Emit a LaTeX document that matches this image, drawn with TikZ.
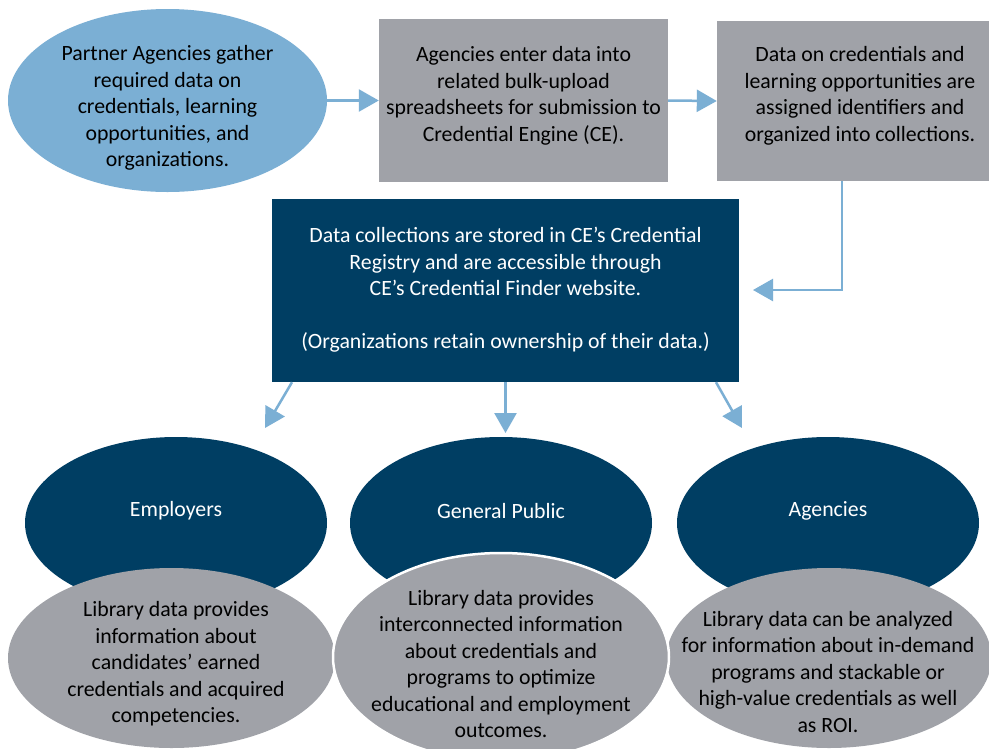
\documentclass[tikz,border=0pt]{standalone}
\usepackage{fontspec}
\setmainfont{Carlito}
\usetikzlibrary{shapes.geometric,arrows.meta,calc}
\definecolor{lblue}{HTML}{7BAFD4}
\definecolor{cgray}{HTML}{A0A2A8}
\definecolor{dblue}{HTML}{003E63}
\begin{document}
\begin{tikzpicture}[x=1pt,y=-1pt,
  txt/.style={font=\fontsize{21.8}{26.5}\selectfont, align=center, inner sep=0pt},
  ell/.style={ellipse, inner sep=0pt},
  boxs/.style={rectangle, inner sep=0pt},
  arr/.style={draw=lblue, line width=2.5pt, -{Triangle[length=20pt,width=22pt]}}]
\useasboundingbox (0,0) rectangle (989,748);
\fill[white] (0,0) rectangle (989,748);

% top row
\node[ell, fill=lblue, minimum width=319pt, minimum height=183pt] (pa) at (167.5,100.5) {};
\node[txt] (paT) at (167.5,108) {Partner Agencies gather\\required data on\\credentials, learning\\opportunities, and\\organizations.};

\node[boxs, fill=cgray, minimum width=289pt, minimum height=163pt] (b1) at (523.5,100.5) {};
\node[txt] (b1T) at (523.5,96) {Agencies enter data into\\related bulk-upload\\spreadsheets for submission to\\Credential Engine (CE).};

\node[boxs, fill=cgray, minimum width=272pt, minimum height=160pt] (b2) at (853,101) {};
\node[txt] (b2T) at (860,96) {Data on credentials and\\learning opportunities are\\assigned identifiers and\\organized into collections.};

% dark box
\node[boxs, fill=dblue, minimum width=467pt, minimum height=183pt] (db) at (505.5,290.5) {};
\node[txt, text=white] (dbT) at (505.5,290) {Data collections are stored in CE’s Credential\\Registry and are accessible through\\CE’s Credential Finder website.\\[26.5pt](Organizations retain ownership of their data.)};

% connectors
\draw[arr] (pa.east) -- (b1.west);
\draw[arr] (b1.east) -- (b2.west);
\coordinate (a3end) at (753,290);
\draw[arr] ([xshift=-11pt]b2.south) |- (a3end);

\coordinate (t1) at (265,428);
\coordinate (t2) at (505.5,433);
\coordinate (t3) at (742,428);
\draw[arr] ([xshift=-213.5pt]db.south) -- (t1);
\draw[arr] (db.south) -- (t2);
\draw[arr] ([xshift=210.5pt]db.south) -- (t3);

% dark ellipses
\node[ell, fill=dblue, minimum width=302pt, minimum height=172pt] (e1) at (176,523) {};
\node[ell, fill=dblue, minimum width=302pt, minimum height=172pt] (e2) at (501,523) {};
\node[ell, fill=dblue, minimum width=302pt, minimum height=172pt] (e3) at (828,523) {};
\node[txt, text=white] (e1T) at (176,511) {Employers};
\node[txt, text=white] (e2T) at (501,511) {General Public};
\node[txt, text=white] (e3T) at (828,511) {Agencies};

% gray ellipses
\node[ell, fill=cgray, minimum width=327pt, minimum height=180pt] (g1) at (171.5,658) {};
\node[ell, fill=cgray, minimum width=325pt, minimum height=180pt] (g3) at (829,658) {};
\node[ell, fill=cgray, draw=white, line width=2.5pt, minimum width=336pt, minimum height=208pt] (g2) at (501,657) {};

\node[txt] (g1T) at (176,664) {Library data provides\\information about\\candidates’ earned\\credentials and acquired\\competencies.};
\node[txt] (g2T) at (501,664) {Library data provides\\interconnected information\\about credentials and\\programs to optimize\\educational and employment\\outcomes.};
\node[txt] (g3T) at (828,672) {Library data can be analyzed\\for information about in-demand\\programs and stackable or\\high-value credentials as well\\as ROI.};
\end{tikzpicture}
\end{document}
